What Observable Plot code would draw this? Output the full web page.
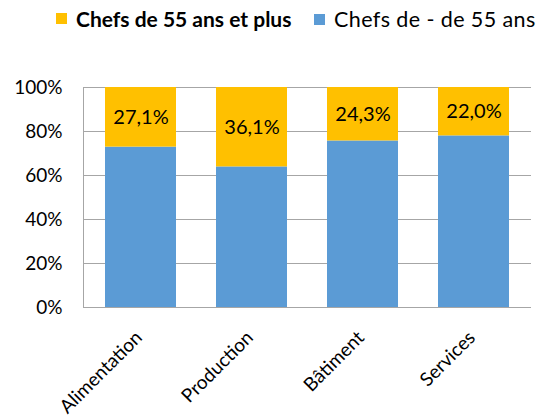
<!DOCTYPE html>
<html><head><meta charset="utf-8">
<script src="https://cdn.jsdelivr.net/npm/d3@7"></script>
<script src="https://cdn.jsdelivr.net/npm/@observablehq/plot@0.6"></script>
<style>
body{margin:0;background:#fff;font-family:Lato,sans-serif;}
#legend{height:40px;position:relative;color:#000;}
.item{position:absolute;top:6px;display:flex;align-items:center;white-space:nowrap;}
.sw{width:11px;height:11px;margin-right:9px;display:inline-block;}
</style></head>
<body>
<div id="legend"></div>
<div id="chart"></div>
<script>
const categories = ["Alimentation", "Production", "Bâtiment", "Services"];
const under55 = [72.9, 63.9, 75.7, 78.0];
const over55 = [27.1, 36.1, 24.3, 22.0];
const seriesNames = ["Chefs de 55 ans et plus", "Chefs de - de 55 ans"];
const colors = ["#FFC000", "#5B9BD5"];
const yTicks = [0, 20, 40, 60, 80, 100];

const legend = document.getElementById("legend");
const pos = [56, 314];
const sizes = [21, 21.5];
seriesNames.forEach((n, i) => {
  const d = document.createElement("div");
  d.className = "item";
  d.style.left = pos[i] + "px";
  d.innerHTML = `<span class="sw" style="background:${colors[i]}"></span><span style="font-size:${sizes[i]}px;font-weight:${i===0?700:400};letter-spacing:${i===0?0:0.4}px">${n}</span>`;
  legend.appendChild(d);
});

const data = [];
categories.forEach((c, i) => {
  data.push({cat: c, serie: seriesNames[1], value: under55[i], order: 0});
  data.push({cat: c, serie: seriesNames[0], value: over55[i], order: 1});
});
const labels = categories.map((c, i) => ({cat: c, y: under55[i] + over55[i] / 2, text: over55[i].toFixed(1).replace(".", ",") + "%"}));

const chart = Plot.plot({
  width: 542,
  height: 378,
  marginTop: 47,
  marginBottom: 111,
  marginLeft: 83,
  marginRight: 11,
  style: {fontFamily: "Lato, sans-serif", fontSize: "19px", color: "#000"},
  x: {domain: categories, paddingInner: 0.357, paddingOuter: 0.1786, label: null, axis: null},
  y: {domain: [0, 100], label: null},
  color: {domain: seriesNames, range: colors},
  marks: [
    Plot.gridY(yTicks, {stroke: "#A6A6A6", strokeOpacity: 1, strokeWidth: 1}),
    Plot.barY(data, {x: "cat", y: "value", fill: "serie", order: "order"}),
    Plot.axisY(yTicks, {tickSize: 0, tickPadding: 21, tickFormat: d => d + "%", fontSize: 19, label: null}),
    Plot.text(categories, {x: d => d, y: 0, text: d => d, rotate: -45, textAnchor: "end", lineAnchor: "middle", dx: -2, dy: 27, fontSize: 19}),
    Plot.frame({anchor: "left", stroke: "#A6A6A6"}),
    Plot.ruleY([0], {stroke: "#A6A6A6"}),
    Plot.text(labels, {x: "cat", y: "y", text: "text", fontSize: 20, fill: "#000"})
  ]
});
document.getElementById("chart").appendChild(chart);
</script>
</body></html>
